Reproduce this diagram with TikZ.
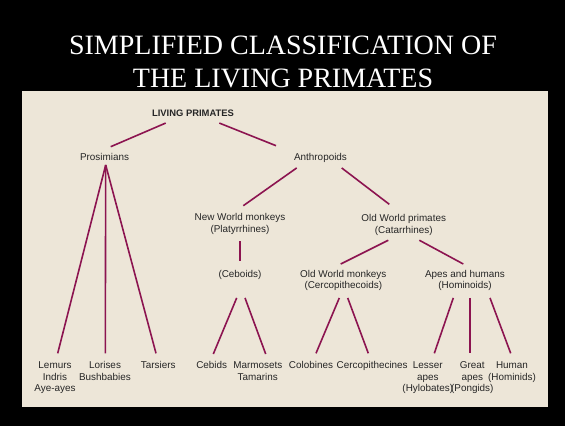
\documentclass[tikz,border=0pt]{standalone}
\usepackage{fontspec}
\setmainfont{Liberation Serif}
\newfontfamily\diagfont{Liberation Sans}
\definecolor{panelbg}{HTML}{EDE6D8}
\definecolor{branch}{RGB}{140,20,80}
\definecolor{ink}{HTML}{262626}
\begin{document}
\begin{tikzpicture}[x=1pt,y=-1pt,
  br/.style={draw=branch,line width=1.6pt},
  lab/.style={font=\diagfont\fontsize{9.9}{11.7}\selectfont,text=ink,inner sep=0pt,anchor=north,align=center},
  ttl/.style={font=\fontsize{28}{33.4}\selectfont,text=white,inner sep=0pt,anchor=north,align=center}]
\fill[black] (0,0) rectangle (565,426);
\useasboundingbox (0,0) rectangle (565,426);
\fill[panelbg] (22,91) rectangle (548,407);
\node[ttl] (title) at (283,35.5) {SIMPLIFIED CLASSIFICATION OF\\THE LIVING PRIMATES};
% level 0
\node[lab,font=\diagfont\bfseries\fontsize{9.4}{11.7}\selectfont] (lp) at (193,109.3) {LIVING PRIMATES};
% level 1
\node[lab] (pro) at (104.5,153.1) {Prosimians};
\node[lab] (ant) at (320.5,153.1) {Anthropoids};
% level 2
\node[lab] (nwm) at (240,213.1) {New World monkeys\\(Platyrrhines)};
\node[lab] (owp) at (403.7,214.1) {Old World primates\\(Catarrhines)};
% level 3
\node[lab] (ceb) at (240,270.4) {(Ceboids)};
\node[lab] (owm) at (343.3,269.7) {Old World monkeys\\(Cercopithecoids)};
\node[lab] (hom) at (465,269.7) {Apes and humans\\(Hominoids)};
% leaves
\node[lab] (lem) at (55,361.4) {Lemurs\\Indris\\Aye-ayes};
\node[lab] (lor) at (105,361.4) {Lorises\\Bushbabies};
\node[lab] (tar) at (158.3,360.7) {Tarsiers};
\node[lab] (cbd) at (211.7,361.4) {Cebids};
\node[lab] (mar) at (257.8,361.4) {Marmosets\\Tamarins};
\node[lab] (col) at (311,361.4) {Colobines};
\node[lab] (cer) at (372.2,361.4) {Cercopithecines};
\node[lab] (les) at (427.8,361.4) {Lesser\\apes\\(Hylobates)};
\node[lab] (gre) at (472.3,361.4) {Great\\apes\\(Pongids)};
\node[lab] (hum) at (512,361.4) {Human\\(Hominids)};
% connectors
\draw[br] ([shift={(-27.3,6.7)}]lp.south) -- ([shift={(6.2,-6.4)}]pro.north);
\draw[br] ([shift={(26.3,6.7)}]lp.south) -- ([shift={(-44.5,-7.4)}]ant.north);
\draw[br] ([shift={(1.2,4.2)}]pro.south) -- ([shift={(2.7,-8.1)}]lem.north);
\draw[br] ([shift={(1.2,4.2)}]pro.south) -- ([shift={(0.3,-8.1)}]lor.north);
\draw[br] ([shift={(1.2,4.2)}]pro.south) -- ([shift={(-2.3,-7.4)}]tar.north);
\draw[br] ([shift={(-23.8,5.2)}]ant.south) -- ([shift={(3.3,-7.4)}]nwm.north);
\draw[br] ([shift={(21.2,5.2)}]ant.south) -- ([shift={(-14.4,-9.8)}]owp.north);
\draw[br] ([shift={(0,6.8)}]nwm.south) -- ([shift={(0,-9.4)}]ceb.north);
\draw[br] ([shift={(-3.3,17.9)}]ceb.south) -- ([shift={(1.6,-7.4)}]cbd.north);
\draw[br] ([shift={(5,17.9)}]ceb.south) -- ([shift={(7.9,-7.4)}]mar.north);
\draw[br] ([shift={(-15.4,4.8)}]owp.south) -- ([shift={(-2.6,-5.7)}]owm.north);
\draw[br] ([shift={(15.6,4.8)}]owp.south) -- ([shift={(-1.7,-5.7)}]hom.north);
\draw[br] ([shift={(-4,6.9)}]owm.south) -- ([shift={(5,-8.1)}]col.north);
\draw[br] ([shift={(4.4,6.9)}]owm.south) -- ([shift={(-3.9,-8.1)}]cer.north);
\draw[br] ([shift={(-11.7,6.9)}]hom.south) -- ([shift={(6.5,-8.1)}]les.north);
\draw[br] ([shift={(5,6.9)}]hom.south) -- ([shift={(-2.3,-8.1)}]gre.north);
\draw[br] ([shift={(25,6.9)}]hom.south) -- ([shift={(-1.3,-8.1)}]hum.north);
\end{tikzpicture}
\end{document}
